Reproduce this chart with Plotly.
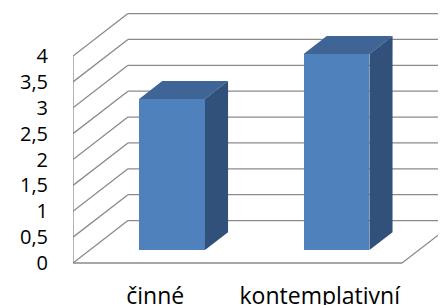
import plotly.graph_objects as go

categories = ["činné", "kontemplativní"]
values = [2.92, 3.79]
y_ticks = [0, 0.5, 1, 1.5, 2, 2.5, 3, 3.5, 4]

# oblique 3D projection constants (in data units)
DX, DY = 0.334, 0.82          # depth offset of the back wall
BAR_D0, BAR_BD = 0.306, 0.42  # bar front-plane depth and bar depth
BAR_W = 0.40
X0, X1 = -0.5, 1.5
GRID = "#8a8a8a"
FRONT, TOP, SIDE = "#4f81bd", "#3e6595", "#31507a"

fig = go.Figure()

# wall / floor lines as shapes below the traces
segs = []
for v in y_ticks:
    segs.append((X0, v, X0 + DX, v + DY))            # left wall diagonals
    segs.append((X0 + DX, v + DY, X1 + DX, v + DY))  # back wall gridlines
segs.append((X0, 0, X0, max(y_ticks)))               # front axis line
segs.append((X0, 0, X1, 0))                          # floor front edge
segs.append((X1, 0, X1 + DX, DY))                    # floor right edge
for (xa, ya, xb, yb) in segs:
    fig.add_shape(type="line", xref="x", yref="y", x0=xa, y0=ya, x1=xb, y1=yb,
                  line=dict(color=GRID, width=1.3), layer="below")

xpos = list(range(len(categories)))
bx = [p + BAR_D0 * DX for p in xpos]
base = BAR_D0 * DY

# front faces through the bar trace
fig.add_trace(go.Bar(x=bx, y=values, base=base, width=BAR_W, marker=dict(color=FRONT, line=dict(width=0)),
                     hoverinfo="skip", showlegend=False))

# top and side faces
for cx, v in zip(bx, values):
    l, r = cx - BAR_W / 2, cx + BAR_W / 2
    top = base + v
    ox, oy = BAR_BD * DX, BAR_BD * DY
    fig.add_trace(go.Scatter(x=[l, r, r + ox, l + ox, l], y=[top, top, top + oy, top + oy, top],
                             mode="lines", fill="toself", fillcolor=TOP, line=dict(width=0, color=TOP),
                             hoverinfo="skip", showlegend=False))
    fig.add_trace(go.Scatter(x=[r, r + ox, r + ox, r, r], y=[base, base + oy, top + oy, top, base],
                             mode="lines", fill="toself", fillcolor=SIDE, line=dict(width=0, color=SIDE),
                             hoverinfo="skip", showlegend=False))

fig.update_layout(
    width=446, height=305,
    margin=dict(l=65, r=8, t=0, b=47),
    plot_bgcolor="white", paper_bgcolor="white",
    separators=", ",
    font=dict(family="Open Sans", color="#000000"),
    xaxis=dict(range=[-0.5, -0.5 + 373 / 164.5], showgrid=False, zeroline=False, showline=False,
               automargin=False,
               tickmode="array", tickvals=xpos, ticktext=categories, ticks="",
               ticklabelstandoff=14, tickfont=dict(size=23, family="Open Sans")),
    yaxis=dict(range=[-0.058, 4.928], showgrid=False, zeroline=False, showline=False,
               automargin=False,
               tickmode="array", tickvals=y_ticks, ticks="", ticklabelstandoff=24,
               tickfont=dict(size=20, family="Open Sans")),
    bargap=0,
)

fig.write_html("out.html")
